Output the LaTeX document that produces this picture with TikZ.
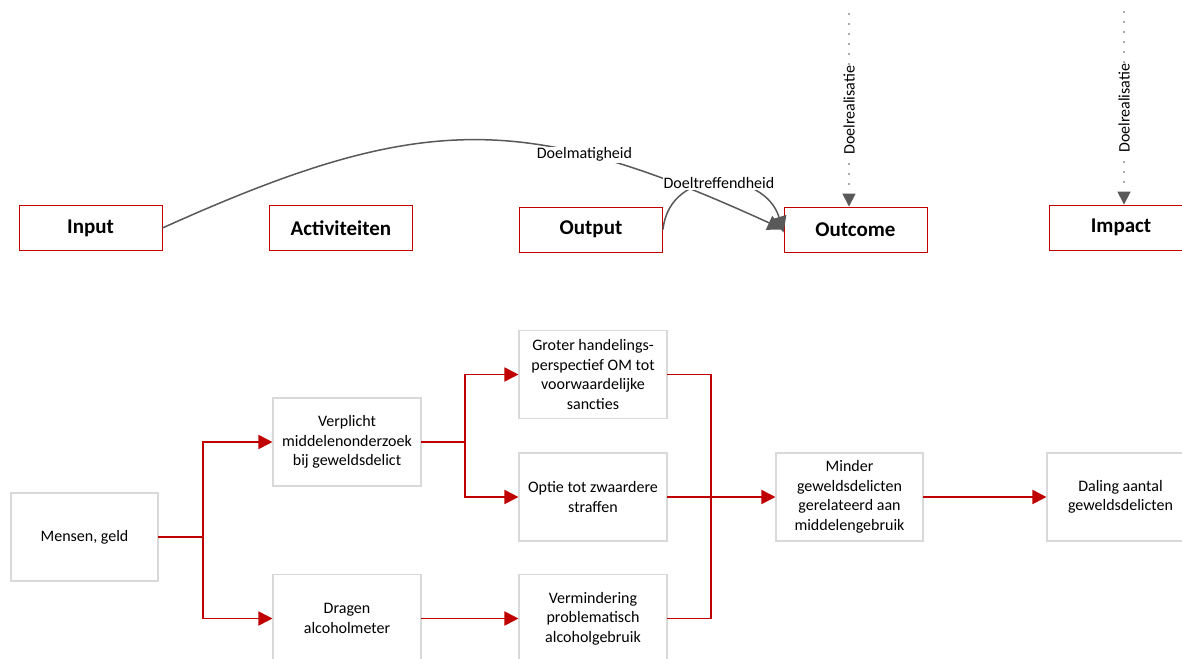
\documentclass[tikz,border=0pt]{standalone}
\usepackage{fontspec}
\setmainfont{Carlito}
\usetikzlibrary{arrows.meta}
\definecolor{accred}{HTML}{C00000}
\definecolor{boxgray}{HTML}{D9D9D9}
\definecolor{linegray}{HTML}{595959}
\begin{document}
\begin{tikzpicture}[x=1pt,y=-1pt,
 stage/.style={draw=accred, line width=0.9pt, fill=white, minimum width=143pt, minimum height=45pt, inner sep=0pt, font=\fontsize{21}{25}\selectfont\bfseries},
 chainbox/.style={draw=boxgray, line width=1.1pt, fill=white, minimum width=148pt, minimum height=88pt, inner sep=2pt, align=center, font=\fontsize{16}{19.6}\selectfont},
 flow/.style={draw=accred, line width=1.8pt, line cap=rect, -{Triangle[length=14pt,width=14pt]}},
 flowline/.style={draw=accred, line width=1.8pt, line cap=rect},
 arc/.style={draw=linegray, line width=1.5pt, -{Triangle[length=16pt,width=15pt]}},
 dotarrow/.style={draw=linegray, line width=1.6pt, line cap=round, dash pattern=on 0pt off 10pt, -{Triangle[length=13pt,width=13pt]}},
 lbl/.style={fill=white, inner sep=1pt, font=\fontsize{16}{19.6}\selectfont, text=black}
]
\useasboundingbox[fill=white] (0,0) rectangle (1182,658);

% top stages
\node[stage] (input) at (90.5,228) {Input};
\node[stage] (activ) at (341,228) {Activiteiten};
\node[stage] (output) at (591,229.5) {Output};
\node[stage] (outcome) at (855.5,229.5) {Outcome};
\node[stage] (impact) at (1121,227.5) {Impact};

% curves
\draw[arc] (input.east) .. controls (422,111) and (525,111) .. (outcome.west)
  node[lbl, pos=0.7] (lblm) {Doelmatigheid};
\draw[arc] (output.east) .. controls (670,165) and (765,170) .. ([yshift=-3pt]outcome.west)
  node[lbl, pos=0.5] (lblt) {Doeltreffendheid};

% dotted arrows
\coordinate (d1) at (849,14);
\coordinate (d2) at (1124,12);
\draw[dotarrow] (d1) -- (d1 |- outcome.north)
  node[lbl, midway, rotate=90] (lblr1) {Doelrealisatie};
\draw[dotarrow] (d2) -- (d2 |- impact.north)
  node[lbl, midway, rotate=90] (lblr2) {Doelrealisatie};

% bottom chain
\node[chainbox, minimum width=147pt] (mensen) at (84.5,537) {Mensen, geld};
\node[chainbox] (verplicht) at (347,442) {Verplicht\\middelenonderzoek\\bij geweldsdelict};
\node[chainbox] (dragen) at (347,618.5) {Dragen\\alcoholmeter};
\node[chainbox] (groter) at (593,374.5) {Groter handelings-\\perspectief OM tot\\voorwaardelijke\\sancties};
\node[chainbox] (optie) at (593,497) {Optie tot zwaardere\\straffen};
\node[chainbox] (verm) at (593,618.5) {Vermindering\\problematisch\\alcoholgebruik};
\node[chainbox, minimum width=147pt] (minder) at (849.5,497) {Minder\\geweldsdelicten\\gerelateerd aan\\middelengebruik};
\node[chainbox, minimum width=147pt] (daling) at (1120.5,497) {Daling aantal\\geweldsdelicten};

\coordinate (j1) at (203,537);
\coordinate (j2) at (465,442);
\coordinate (j3) at (711,497);

\draw[flowline] (mensen.east) -- (j1);
\draw[flow] (j1) |- (verplicht.west);
\draw[flow] (j1) |- (dragen.west);
\draw[flowline] (verplicht.east) -- (j2);
\draw[flow] (j2) |- (groter.west);
\draw[flow] (j2) |- (optie.west);
\draw[flow] (dragen.east) -- (verm.west);
\draw[flowline] (groter.east) -| (j3);
\draw[flowline] (verm.east) -| (j3);
\draw[flowline] (optie.east) -- (j3);
\draw[flow] (j3) -- (minder.west);
\draw[flow] (minder.east) -- (daling.west);
\end{tikzpicture}
\end{document}
